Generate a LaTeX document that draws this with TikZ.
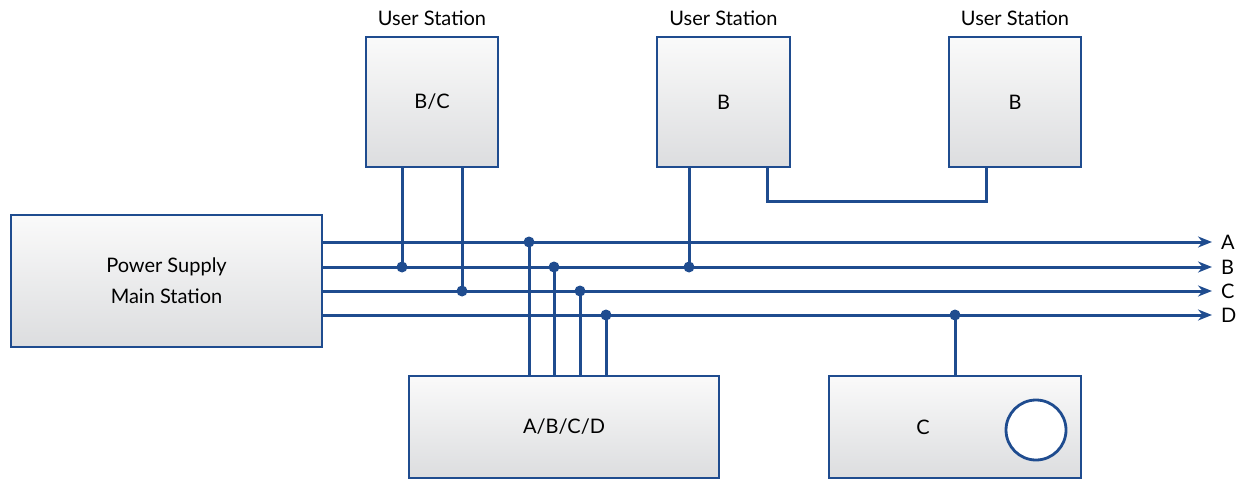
\documentclass[tikz,border=0pt]{standalone}
\usepackage{fontspec}
\setmainfont{Lato}
\usepackage{tikz}
\usetikzlibrary{arrows.meta, positioning}

\definecolor{busblue}{HTML}{1F4C8F}
\definecolor{boxtop}{HTML}{FAFAFA}
\definecolor{boxbot}{HTML}{DCDDDF}

\tikzset{
	box/.style={rectangle,draw=busblue,line width=2.8pt,top color=boxtop,bottom color=boxbot,inner sep=0pt,align=center},
	bus/.style={draw=busblue,line width=3pt},
	dot/.style={circle,fill=busblue,inner sep=0pt,minimum size=11pt},
	lbl/.style={inner sep=0pt,anchor=base}
}

\begin{document}
\begin{tikzpicture}[x=1pt,y=-1pt,font=\fontsize{20}{31}\selectfont]
		%\draw[gray,step=50] (0,0) grid (1241,481);
		\useasboundingbox (0,0) rectangle (1241,481);

		\node[box,minimum width=311pt,minimum height=132pt] (ps) at (166.5,281) {Power Supply\\Main Station};
		\node[box,minimum width=132pt,minimum height=130pt] (us1) at (432,102) {B/C};
		\node[box,minimum width=133pt,minimum height=130pt] (us2) at (723.5,102) {B};
		\node[box,minimum width=132pt,minimum height=130pt] (us3) at (1015,102) {B};
		\node[box,minimum width=310pt,minimum height=102pt] (abcd) at (564,427) {A/B/C/D};
		\node[box,minimum width=252pt,minimum height=102pt] (ldc) at (955,427) {\hspace*{-64pt}C};
		\node[circle,draw=busblue,fill=white,line width=2.8pt,minimum size=60pt] (lamp) at (1036,430) {};

		\node[lbl] (t1) at (432,26) {User Station};
		\node[lbl] (t2) at (723.5,26) {User Station};
		\node[lbl] (t3) at (1015,26) {User Station};

		% bus lines
		\foreach \n/\y in {A/242,B/267,C/291,D/315} {
			\coordinate (s\n) at (322,\y);
			\coordinate (e\n) at (1212,\y);
			\node[anchor=west,inner sep=0pt] (l\n) at (1221,\y) {\n};
			\draw[bus,-{Stealth[length=14pt,width=11pt]}] (s\n) -- (e\n);
		}

		% junctions
		\node[dot] (j1) at (402,267) {};
		\node[dot] (j2) at (462,291) {};
		\node[dot] (j3) at (529,242) {};
		\node[dot] (j4) at (554,267) {};
		\node[dot] (j5) at (580,291) {};
		\node[dot] (j6) at (606,315) {};
		\node[dot] (j7) at (689,267) {};
		\node[dot] (j8) at (955,315) {};

		\draw[bus] (us1.south -| j1) -- (j1.center);
		\draw[bus] (us1.south -| j2) -- (j2.center);
		\draw[bus] (us2.south -| j7) -- (j7.center);
		\foreach \j in {j3,j4,j5,j6}
			\draw[bus] (\j.center) -- (abcd.north -| \j);
		\draw[bus] (j8.center) -- (ldc.north -| j8);

		\coordinate (c1) at (767,201);
		\coordinate (c2) at (986,201);
		\draw[bus] (us2.south -| c1) -- (c1) -- (c2) -- (us3.south -| c2);

	\end{tikzpicture}
\end{document}
